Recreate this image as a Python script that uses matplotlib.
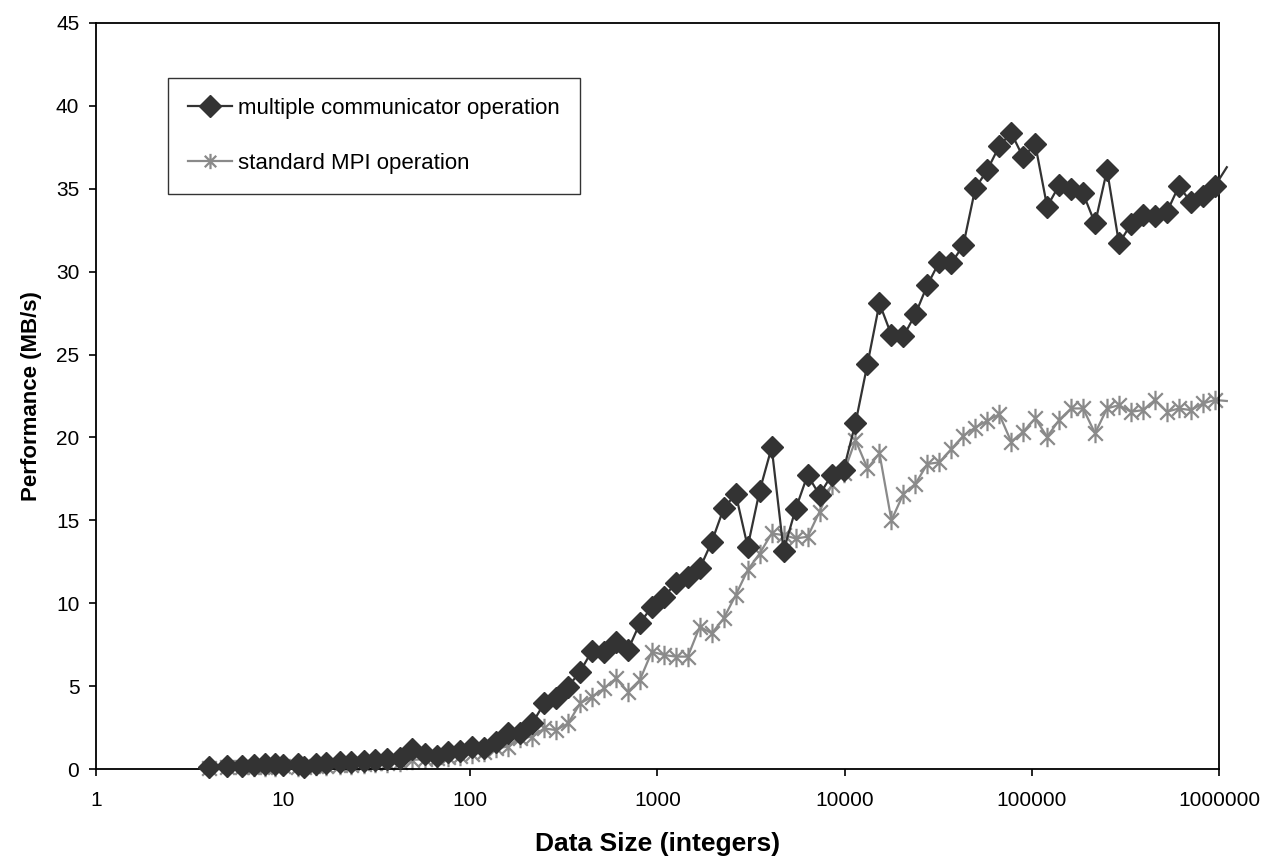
import matplotlib
matplotlib.use("Agg")
import matplotlib.pyplot as plt
from matplotlib.path import Path
from matplotlib.ticker import FixedLocator, FixedFormatter, NullLocator

plt.rcParams.update({
    "font.family": ["Liberation Sans", "DejaVu Sans"],
    "font.size": 15,
})

# ── data ──
sizes = [4, 5, 6, 7, 8, 9, 10, 12, 13, 15, 17, 20, 23, 27, 31, 36, 42, 49, 57, 66,
         76, 88, 102, 119, 137, 159, 185, 214, 248, 287, 333, 386, 447, 518, 600, 695,
         805, 933, 1081, 1253, 1452, 1683, 1950, 2259, 2618, 3034, 3516, 4074, 4721,
         5470, 6339, 7345, 8511, 9863, 11429, 13243, 15346, 17783, 20606, 23878,
         27669, 32063, 37154, 43053, 49888, 57810, 66988, 77625, 89950, 104232,
         120781, 139959, 162181, 187932, 217771, 252348, 292415, 338844, 392645,
         454988, 527230, 610942, 707946, 820352, 950605, 1101539]

multi_comm = [0.1, 0.2, 0.2, 0.25, 0.3, 0.3, 0.25, 0.3, 0.1, 0.3,
              0.35, 0.4, 0.4, 0.5, 0.55, 0.6, 0.65, 1.2, 0.9, 0.8,
              1.0, 1.1, 1.3,
              1.25, 1.65, 2.15, 2.15, 2.75, 3.96, 4.26, 4.97, 5.87, 7.14,
              7.07, 7.68, 7.18, 8.79, 9.79, 10.39, 11.2, 11.6, 12.1, 13.71,
              15.72, 16.59, 13.41, 16.79, 19.4, 13.17, 15.68, 17.73, 16.53, 17.73,
              18.03, 20.87,
              24.43, 28.09, 26.18, 26.1, 27.44, 29.19, 30.6, 30.5, 31.6, 35.02,
              36.13, 37.57, 38.38, 36.89, 37.7, 33.92, 35.22, 34.96, 34.72, 32.91,
              36.13, 31.7, 32.87, 33.41, 33.35, 33.6, 35.16, 34.2, 34.56, 35.16,
              36.3]

std_mpi = [0.05, 0.1, 0.1, 0.1, 0.15, 0.15, 0.2, 0.15, 0.1, 0.2,
           0.2, 0.25, 0.25, 0.3, 0.35, 0.35, 0.4, 0.55, 0.6, 0.65,
           0.75, 0.8, 0.9,
           1.05, 1.25, 1.35, 1.85, 1.95, 2.45, 2.35, 2.75, 3.96, 4.36,
           4.86, 5.47, 4.66, 5.37, 7.08, 6.88, 6.78, 6.78, 8.59, 8.18,
           9.09, 10.49, 12.0, 13.0, 14.21, 14.11, 13.91, 14.01, 15.52, 17.13,
           17.83, 19.84, 18.13, 19.04,
           15.0, 16.6, 17.2, 18.4, 18.5, 19.3, 20.1, 20.6, 21.0, 21.4,
           19.74, 20.35, 21.15, 20.04, 21.05, 21.75, 21.75, 20.25, 21.75, 21.95,
           21.55, 21.65, 22.26, 21.55, 21.75, 21.65, 22.05, 22.26, 22.2]

x_ticks = [1, 10, 100, 1000, 10000, 100000, 1000000]
x_labels = ["1", "10", "100", "1000", "10000", "100000", "1000000"]
y_ticks = [0, 5, 10, 15, 20, 25, 30, 35, 40, 45]

# Excel-style star: vertical bar plus an X
STAR = Path([(0, -1), (0, 1), (-0.75, -0.75), (0.75, 0.75), (-0.75, 0.75), (0.75, -0.75)],
            [Path.MOVETO, Path.LINETO, Path.MOVETO, Path.LINETO, Path.MOVETO, Path.LINETO])

DARK = "#333333"
GREY = "#8a8a8a"

fig = plt.figure(figsize=(12.65, 8.58), dpi=100)
ax = fig.add_axes([0.0759, 0.1037, 0.8877, 0.8695])

n_vis = len(sizes) - 1  # last point lies just past 1e6, only its line segment shows
ax.plot(sizes, std_mpi, color=GREY, linewidth=1.6, marker=STAR, markersize=14,
        markeredgewidth=1.6, markerfacecolor="none", markeredgecolor=GREY,
        markevery=slice(0, n_vis), clip_on=False, label="standard MPI operation", zorder=2)
ax.plot(sizes, multi_comm, color=DARK, linewidth=1.6, marker="D", markersize=11.5,
        markerfacecolor=DARK, markeredgecolor=DARK,
        markevery=slice(0, n_vis), clip_on=False, label="multiple communicator operation", zorder=3)

ax.set_xscale("log")
ax.set_xlim(1, 1000000)
ax.set_ylim(0, 45)
ax.xaxis.set_major_locator(FixedLocator(x_ticks))
ax.xaxis.set_major_formatter(FixedFormatter(x_labels))
ax.xaxis.set_minor_locator(NullLocator())
ax.set_yticks(y_ticks)

for s in ax.spines.values():
    s.set_linewidth(1.3)
    s.set_color("black")
ax.tick_params(axis="both", direction="out", length=5, width=1.2, labelsize=15)
ax.tick_params(axis="x", pad=11)
ax.tick_params(axis="y", pad=7)

ax.set_xlabel("Data Size (integers)", fontsize=19, fontweight="bold", labelpad=16)
ax.set_ylabel("Performance (MB/s)", fontsize=16, fontweight="bold", labelpad=10)

handles, labels = ax.get_legend_handles_labels()
leg = ax.legend(handles[::-1], labels[::-1], loc="upper left",
                bbox_to_anchor=(0.064, 0.926), frameon=True, fancybox=False,
                edgecolor="black", fontsize=16, labelspacing=1.5, borderpad=0.9,
                handlelength=2.0, handletextpad=0.25, borderaxespad=0)
leg.get_frame().set_linewidth(1.0)
for h in leg.legend_handles:
    h.set_markersize(11)

fig.savefig("out.png", dpi=100)
